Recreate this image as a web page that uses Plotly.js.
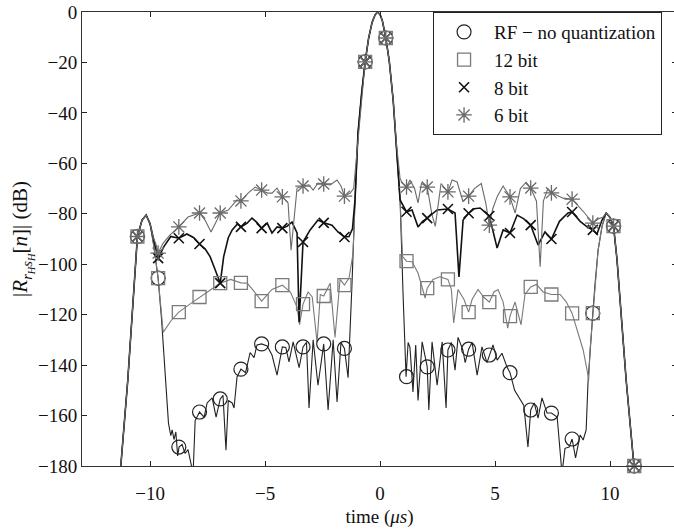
<!DOCTYPE html>
<html>
<head>
<meta charset="utf-8">
<script src="https://cdn.plot.ly/plotly-3.0.1.min.js"></script>
<style>
html,body{margin:0;padding:0;overflow:hidden;background:#fff;}
#chart{width:680px;height:531px;}
</style>
</head>
<body>
<div id="chart"></div>
<script>
// ---- data (time in microseconds, magnitude in dB) ----
const seriesNames = ["RF \u2212 no quantization", "12 bit", "8 bit", "6 bit"];

const rfX = [-11.3,-10.97,-10.55,-10.35,-10.17,-10.0,-9.85,-9.65,-9.5,-9.35,-9.2,-9.1,-9.04,-8.96,-8.88,-8.8,-8.74,-8.61,-8.48,-8.35,-8.13,-8.04,-7.85,-7.65,-7.52,-7.3,-7.13,-6.95,-6.83,-6.7,-6.6,-6.43,-6.35,-6.22,-6.05,-5.85,-5.65,-5.48,-5.35,-5.15,-4.91,-4.7,-4.48,-4.25,-4.1,-3.96,-3.78,-3.52,-3.35,-3.2,-3.09,-2.91,-2.7,-2.45,-2.26,-2.04,-1.87,-1.7,-1.55,-1.39,-1.3,-1.22,-1.09,-0.96,-0.8,-0.65,-0.5,-0.35,-0.22,-0.12,0.0,0.1,0.25,0.4,0.57,0.72,0.87,1.0,1.09,1.13,1.22,1.3,1.43,1.55,1.65,1.83,2.05,2.12,2.26,2.48,2.7,2.87,2.95,3.1,3.26,3.39,3.6,3.7,3.85,4.0,4.22,4.43,4.65,4.75,4.91,5.09,5.3,5.52,5.65,5.85,6.09,6.25,6.43,6.55,6.7,6.87,7.04,7.26,7.45,7.7,7.91,8.04,8.22,8.35,8.5,8.7,8.83,8.96,9.04,9.13,9.25,9.35,9.48,9.65,9.83,10.0,10.15,10.3,10.45,10.7,11.05,11.15];
const rfY = [-183,-146,-89,-82.5,-80.5,-84,-92,-105.5,-122,-145,-163,-168,-165.7,-169.5,-166.5,-176,-172.5,-171.5,-175,-173.5,-183,-162,-158.6,-160.6,-155,-153,-160.6,-153.4,-152,-173.7,-154,-155,-157,-144.7,-141.6,-143,-135,-137,-132,-131.6,-132.4,-136,-144,-132.8,-133,-138.7,-130.8,-141,-132.8,-131,-157,-130,-148,-131.6,-157.8,-130,-154.6,-131,-133.4,-145,-127,-107.5,-74.5,-48,-32,-19.8,-10.5,-4.2,-1.2,0,-1,-3.5,-10.3,-19.5,-35,-53,-74.5,-112,-140,-144.6,-131,-133,-150.6,-132,-154,-130.8,-140.7,-157.8,-130.8,-148,-130.8,-157,-134,-131,-142,-129,-134,-139,-133.7,-131,-144,-132.8,-139,-136,-132,-138,-135.3,-140.8,-143,-150,-153.8,-156,-172.5,-157.8,-155,-161,-153,-159,-159,-160.6,-183,-173,-172.5,-169.3,-176.8,-167.7,-169.7,-165.7,-147,-134,-119.4,-107.5,-94.4,-85,-79.7,-81.5,-84.9,-98,-115,-146,-181,-190];

const b12X = [-11.3,-10.97,-10.55,-10.35,-10.17,-10.0,-9.85,-9.65,-9.5,-9.43,-9.1,-8.75,-8.3,-7.85,-7.35,-6.95,-6.5,-6.05,-5.78,-5.55,-5.15,-4.7,-4.25,-3.9,-3.61,-3.5,-3.35,-3.13,-2.95,-2.74,-2.6,-2.45,-2.17,-1.96,-1.74,-1.55,-1.35,-1.18,-1.09,-0.96,-0.8,-0.65,-0.5,-0.35,-0.22,-0.12,0.0,0.1,0.25,0.4,0.57,0.72,0.87,0.98,1.15,1.39,1.65,1.96,2.05,2.3,2.6,2.95,3.1,3.2,3.39,3.65,3.85,4.0,4.26,4.5,4.75,4.95,5.13,5.35,5.55,5.65,5.87,6.13,6.3,6.55,6.8,7.09,7.45,7.83,8.1,8.35,8.6,8.83,9.0,9.07,9.13,9.25,9.35,9.48,9.65,9.83,10.0,10.15,10.3,10.45,10.7,11.05,11.15];
const b12Y = [-183,-146,-89,-82.5,-80.5,-84,-92,-105.5,-120,-127,-122.5,-119,-116,-113,-110,-107.5,-106,-107.4,-107.5,-110,-114.6,-110,-108.3,-111,-117,-124,-115.8,-111,-113,-131,-112,-112.6,-107.5,-129,-106,-108.3,-105.5,-96,-74.5,-48,-32,-19.8,-10.5,-4.2,-1.2,0,-1,-3.5,-10.3,-19.5,-35,-53,-74.5,-97,-98.8,-99,-103.5,-113.4,-109.5,-106,-105,-106,-110,-123.3,-110,-114,-119,-114,-110,-113,-115,-111,-110,-115,-125.3,-120.6,-115,-124,-112,-109,-108,-111,-112,-112,-115,-119.5,-127,-134,-142,-146,-134,-119.4,-107.5,-94.4,-85,-79.7,-81.5,-84.9,-98,-115,-146,-181,-190];

const b8X = [-11.3,-10.97,-10.55,-10.35,-10.17,-10.0,-9.87,-9.65,-9.4,-9.1,-8.75,-8.4,-8.1,-7.85,-7.6,-7.39,-7.2,-6.95,-6.8,-6.6,-6.43,-6.2,-6.05,-5.78,-5.57,-5.35,-5.15,-4.91,-4.7,-4.48,-4.25,-4.05,-3.83,-3.61,-3.52,-3.35,-3.04,-2.7,-2.45,-2.09,-1.83,-1.55,-1.35,-1.2,-1.09,-0.96,-0.8,-0.65,-0.5,-0.35,-0.22,-0.12,0.0,0.1,0.25,0.4,0.57,0.72,0.87,1.15,1.39,1.65,1.85,2.05,2.48,2.95,3.26,3.43,3.61,3.85,4.1,4.35,4.75,5.09,5.35,5.65,5.96,6.25,6.55,6.87,7.17,7.45,7.8,8.17,8.35,8.7,9.0,9.25,9.43,9.65,9.83,10.0,10.15,10.3,10.45,10.7,11.05,11.15];
const b8Y = [-183,-146,-89,-82.5,-80.5,-84,-89.2,-97.6,-93,-89,-89.7,-88,-89.5,-92,-94,-97,-101.5,-107.5,-97,-89.5,-86.4,-84,-85.2,-83.7,-81.7,-83.5,-85.7,-83.7,-87.6,-85.2,-85.7,-85,-83.3,-87.6,-123,-91.2,-86.4,-82.5,-83.6,-84.5,-87.2,-89.2,-89,-86,-74.5,-48,-32,-19.8,-10.5,-4.2,-1.2,0,-1,-3.5,-10.3,-19.5,-35,-53,-74.5,-79.2,-78.5,-85.2,-83,-81.7,-78.5,-78.1,-79.7,-105,-82.5,-79.8,-78,-77.7,-80.9,-93.6,-86.4,-87.6,-80.5,-82,-84.5,-92.4,-87.2,-90,-83,-79.7,-79.3,-83,-85.2,-86.4,-88,-82.5,-79.7,-81.5,-84.9,-98,-115,-146,-181,-190];

const b6X = [-11.3,-10.97,-10.55,-10.35,-10.17,-10.0,-9.87,-9.75,-9.65,-9.43,-9.13,-8.75,-8.35,-7.85,-7.61,-7.35,-7.09,-6.95,-6.6,-6.22,-6.05,-5.74,-5.43,-5.15,-4.9,-4.7,-4.48,-4.25,-4.0,-3.87,-3.61,-3.35,-3.1,-2.91,-2.7,-2.45,-2.17,-1.87,-1.7,-1.55,-1.3,-1.15,-1.05,-0.96,-0.8,-0.65,-0.5,-0.35,-0.22,-0.12,0.0,0.1,0.25,0.4,0.57,0.72,0.87,0.96,1.15,1.3,1.5,1.65,1.8,2.05,2.25,2.4,2.65,2.95,3.13,3.35,3.6,3.85,4.1,4.4,4.6,4.75,4.9,5.1,5.35,5.65,5.87,6.1,6.35,6.55,6.8,6.96,7.1,7.3,7.45,7.96,8.35,8.83,9.25,9.5,9.7,9.83,10.0,10.15,10.3,10.45,10.7,11.05,11.15];
const b6Y = [-183,-146,-89,-82.5,-80.5,-84,-89.2,-92,-95.6,-91.6,-88.4,-85.2,-81.3,-79.7,-82.5,-87.2,-82.5,-79.7,-78.5,-74.5,-74.9,-71.8,-69.4,-70.6,-71.8,-71.8,-69.8,-73.3,-75.7,-94.4,-69.8,-69,-68.5,-70.6,-67.8,-68.2,-68.6,-66.6,-69,-73,-71.8,-70,-60,-48,-32,-19.8,-10.5,-4.2,-1.2,0,-1,-3.5,-10.3,-19.5,-35,-53,-66,-67.8,-69.4,-66.6,-70,-75.7,-68,-69.4,-80,-85,-68,-71.3,-66.6,-67.4,-75,-73,-70,-68,-76,-84.5,-78,-73,-69,-73.3,-79.7,-70,-67.5,-69.8,-75,-101,-75,-70,-71.7,-73.8,-74.2,-79,-83.7,-82,-81.3,-79.7,-81.5,-84.9,-98,-115,-146,-181,-190];

// marker samples (every 0.9 us)
const markerTimes = [-10.55,-9.65,-8.75,-7.85,-6.95,-6.05,-5.15,-4.25,-3.35,-2.45,-1.55,-0.65,0.25,1.15,2.05,2.95,3.85,4.75,5.65,6.55,7.45,8.35,9.25,10.15,11.05];
const rfMk  = [-89,-105.5,-172.5,-158.6,-153.4,-141.6,-131.6,-132.8,-132.8,-131.6,-133.4,-19.8,-10.3,-144.6,-140.7,-134,-133.7,-136,-143,-157.8,-159,-169.3,-119.4,-84.9,-180];
const b12Mk = [-89,-105.5,-119,-113,-107.5,-107.4,-114.6,-108.3,-115.8,-112.6,-108.3,-19.8,-10.3,-98.8,-109.5,-106,-119,-115,-120.6,-109,-112,-119.5,-119.4,-84.9,-180];
const b8Mk  = [-89,-97.6,-89.7,-92,-107.5,-85.2,-85.7,-85.7,-91.2,-83.6,-89.2,-19.8,-10.3,-79.2,-81.7,-78.1,-79.8,-80.9,-87.6,-84.5,-90,-79.3,-86.4,-84.9,-180];
const b6Mk  = [-89,-95.6,-85.2,-79.7,-79.7,-74.9,-70.6,-73.3,-69,-68.2,-73,-19.8,-10.3,-69.4,-69.4,-71.3,-73,-84.5,-73.3,-69.8,-71.7,-74.2,-83.7,-84.9,-180];

const yTickVals = [0,-20,-40,-60,-80,-100,-120,-140,-160,-180];
const xTickVals = [-10,-5,0,5,10];

// ---- styling ----
const FONT = "Liberation Serif, Times New Roman, serif";
const styles = [
  {color:"#222", lw:1.1, sym:"circle-open", size:14, mlw:1.2},
  {color:"#7a7a7a", lw:1.1, sym:"square-open", size:13, mlw:1.3},
  {color:"#111", lw:1.6, sym:"x-thin-open", size:10, mlw:1.6},
  {color:"#6a6a6a", lw:1.1, sym:"asterisk-open", size:13, mlw:1.3}
];
const lineData = [[rfX,rfY],[b12X,b12Y],[b8X,b8Y],[b6X,b6Y]];
const mkData = [rfMk,b12Mk,b8Mk,b6Mk];

const traces = [];
lineData.forEach((d,i)=>{
  traces.push({x:d[0], y:d[1], mode:"lines", type:"scatter", showlegend:false,
    line:{color:styles[i].color, width:styles[i].lw}, hoverinfo:"skip"});
});
mkData.forEach((m,i)=>{
  traces.push({x:markerTimes, y:m, mode:"markers", type:"scatter", name:seriesNames[i],
    cliponaxis:false,
    marker:{symbol:styles[i].sym, size:styles[i].size, color:styles[i].color,
      line:{color:styles[i].color, width:styles[i].mlw}}});
});

const layout = {
  width:680, height:531,
  margin:{l:82, r:3, t:12, b:65},
  paper_bgcolor:"#fff", plot_bgcolor:"#fff",
  font:{family:FONT, size:19, color:"#111"},
  showlegend:true,
  legend:{x:0.59, y:1, xanchor:"left", yanchor:"top", bgcolor:"#fff",
    bordercolor:"#222", borderwidth:1, font:{family:FONT, size:19, color:"#111"},
    itemwidth:50, tracegroupgap:0},
  xaxis:{range:[-12.96,12.91], tickvals:xTickVals, ticks:"inside", ticklen:5, tickcolor:"#222",
    showline:true, linecolor:"#333", linewidth:1, mirror:"ticks", showgrid:false, zeroline:false,
    tickfont:{family:FONT, size:19}, ticklabelstandoff:10,
    title:{text:"time (<i>\u03bcs</i>)", font:{family:FONT, size:19}, standoff:6}},
  yaxis:{range:[-180,0], tickvals:yTickVals, ticks:"inside", ticklen:5, tickcolor:"#222",
    showline:true, linecolor:"#333", linewidth:1, mirror:"ticks", showgrid:false, zeroline:false,
    tickfont:{family:FONT, size:19},
    title:{text:"|<i>R</i><sub><i>r</i><sub><i>H</i></sub><i>s</i><sub><i>H</i></sub></sub>[<i>n</i>]| (dB)", font:{family:FONT, size:21}, standoff:4}}
};

Plotly.newPlot("chart", traces, layout, {staticPlot:true, displayModeBar:false});
</script>
</body>
</html>
